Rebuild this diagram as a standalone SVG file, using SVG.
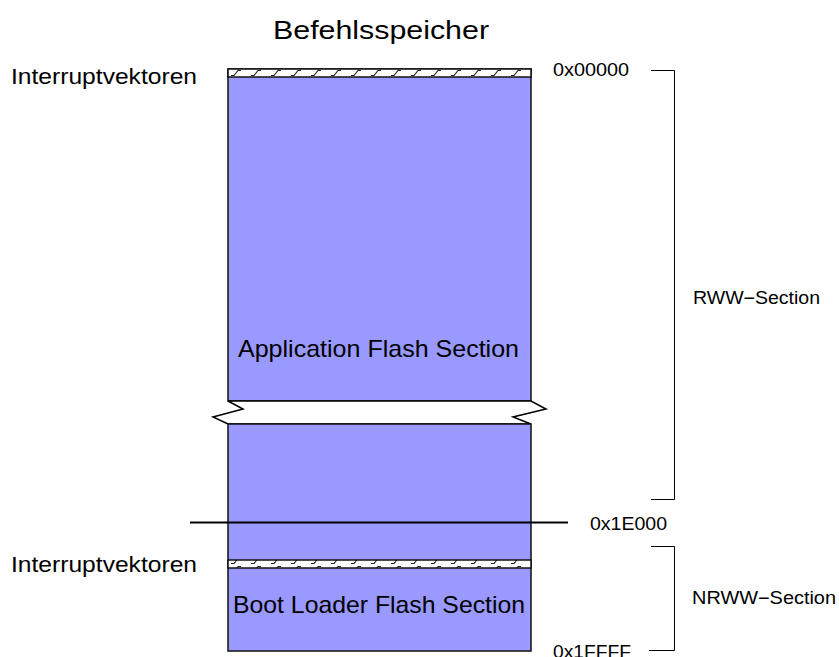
<svg xmlns="http://www.w3.org/2000/svg" width="839" height="657" viewBox="0 0 839 657">
  <style>
    text { font-family: "Liberation Sans", Arial, sans-serif; fill: #000; }
    .title { font-size: 26px; }
    .side { font-size: 22px; }
    .inner { font-size: 24px; }
    .addr { font-size: 18px; }
    .sect { font-size: 18px; }
    .block { fill: #9999ff; stroke: #111; stroke-width: 1.5; }
    .hatch { fill: url(#hatch); stroke: #111; stroke-width: 1.5; }
    .brace { fill: none; stroke: #000; stroke-width: 1; }
  </style>
  <defs>
    <pattern id="hatch" patternUnits="userSpaceOnUse" x="228" y="69" width="20" height="8">
      <rect width="20" height="8" fill="#fff"/>
      <path d="M3,6.5 H6 L10,1.5 H13" fill="none" stroke="#222" stroke-width="1.2"/>
    </pattern>
  </defs>

  <!-- heading -->
  <g id="title">
    <text class="title" x="273" y="39" textLength="216" lengthAdjust="spacingAndGlyphs">Befehlsspeicher</text>
  </g>

  <!-- application flash section (upper part) -->
  <g id="app-section">
    <rect class="block" x="228" y="69" width="303" height="332"/>
    <rect class="hatch" x="228" y="69" width="303" height="8"/>
    <text class="inner" x="238" y="357" textLength="281" lengthAdjust="spacingAndGlyphs">Application Flash Section</text>
  </g>

  <!-- interruption of the address range -->
  <g id="break">
    <polygon points="228,401 531,401 546,409 513,417 531,424 228,424 213,417 243,409" fill="#fff" stroke="#000" stroke-width="1.5" stroke-linejoin="miter"/>
  </g>

  <!-- continuation of application section and boot loader section -->
  <g id="boot-section">
    <rect class="block" x="228" y="424" width="303" height="227"/>
    <rect class="hatch" x="228" y="560" width="303" height="8"/>
    <text class="inner" x="233" y="613" textLength="292" lengthAdjust="spacingAndGlyphs">Boot Loader Flash Section</text>
  </g>

  <!-- side labels -->
  <g id="ivec-top">
    <text class="side" x="11" y="84" textLength="186" lengthAdjust="spacingAndGlyphs">Interruptvektoren</text>
  </g>
  <g id="ivec-boot">
    <text class="side" x="11" y="572" textLength="186" lengthAdjust="spacingAndGlyphs">Interruptvektoren</text>
  </g>

  <!-- addresses -->
  <g id="addr-start">
    <text class="addr" x="553" y="76" textLength="76" lengthAdjust="spacingAndGlyphs">0x00000</text>
  </g>
  <g id="addr-boot">
    <text class="addr" x="590" y="530" textLength="77" lengthAdjust="spacingAndGlyphs">0x1E000</text>
  </g>
  <g id="addr-end">
    <text class="addr" x="553" y="658" textLength="78" lengthAdjust="spacingAndGlyphs">0x1FFFF</text>
  </g>

  <!-- section names -->
  <g id="rww">
    <text class="sect" x="693" y="304" textLength="127" lengthAdjust="spacingAndGlyphs">RWW−Section</text>
  </g>
  <g id="nrww">
    <text class="sect" x="692" y="604" textLength="144" lengthAdjust="spacingAndGlyphs">NRWW−Section</text>
  </g>

  <!-- connectors: boundary line and section brackets -->
  <g id="connectors">
    <line x1="190" y1="522.5" x2="568" y2="522.5" stroke="#000" stroke-width="2"/>
    <path class="brace" d="M651,70.5 H674.5 V499.5 H651"/>
    <path class="brace" d="M651,546.5 H674.5 V650.5 H649"/>
  </g>
</svg>
